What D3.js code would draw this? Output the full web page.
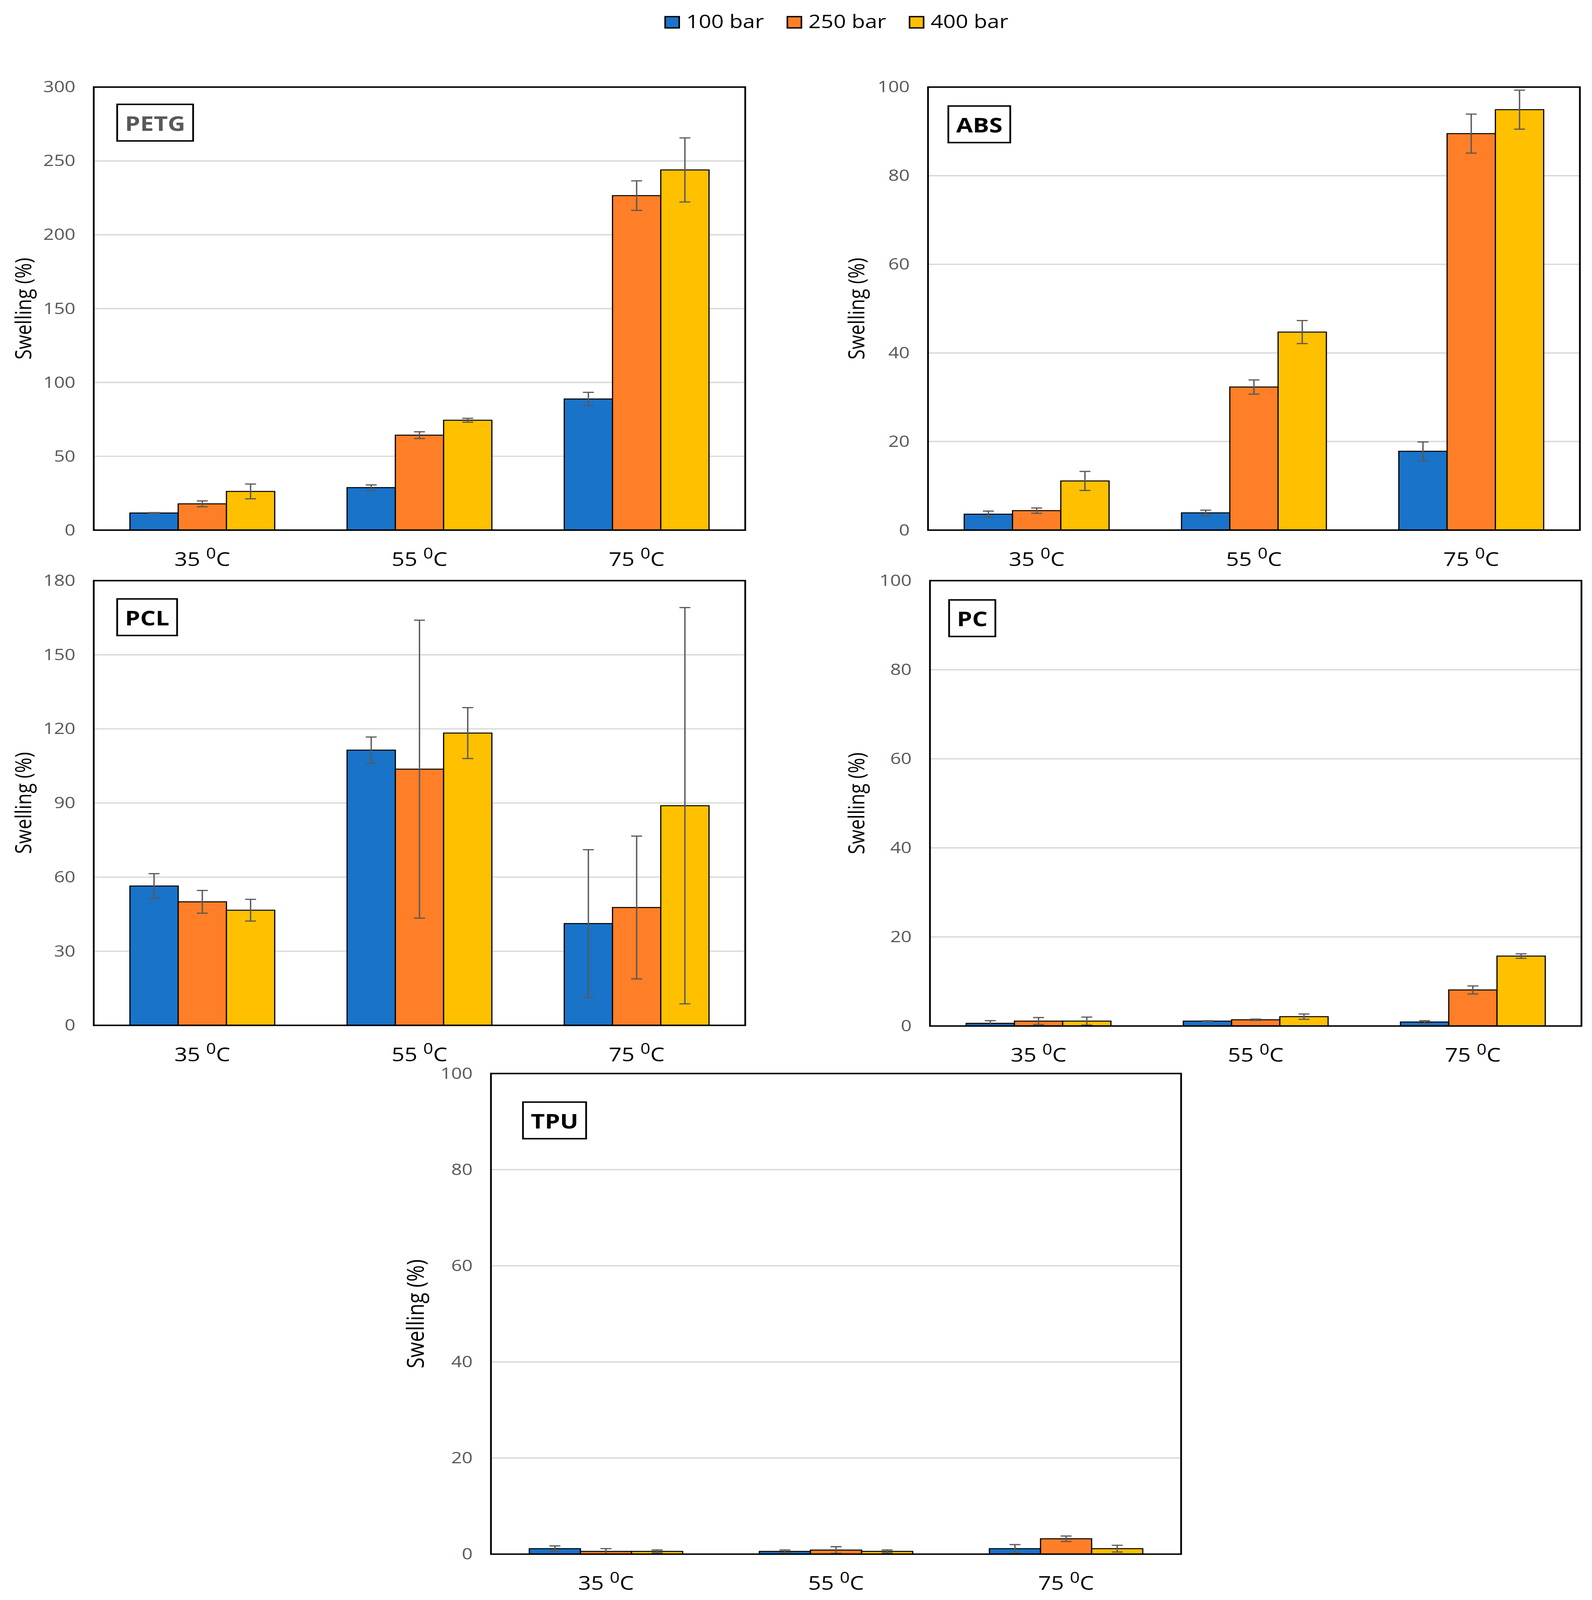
<!DOCTYPE html>
<html>
<head>
<meta charset="utf-8">
<script src="https://cdn.jsdelivr.net/npm/d3@7"></script>
<style>
  html, body { margin: 0; padding: 0; background: #fff; overflow: hidden; }
  svg { display: block; font-family: "Open Sans", sans-serif; }
</style>
</head>
<body>
<div id="chart"></div>
<script>
// Categories and series
const temps = ['35', '55', '75'];
const pressures = ['100 bar', '250 bar', '400 bar'];
const colors = ['#1873C9', '#FE7F27', '#FFC000'];

// Swelling (%) per temperature (rows) and pressure (columns)
const petgMean = [[11.6, 17.8, 26.2], [28.8, 64.3, 74.4], [88.8, 226.5, 243.9]];
const petgErr  = [[0.3, 2.0, 5.0], [1.8, 2.3, 1.3], [4.5, 10.0, 21.7]];
const absMean  = [[3.6, 4.4, 11.1], [3.9, 32.3, 44.7], [17.8, 89.5, 94.9]];
const absErr   = [[0.7, 0.6, 2.15], [0.6, 1.6, 2.6], [2.1, 4.4, 4.4]];
const pclMean  = [[56.4, 50.0, 46.6], [111.4, 103.7, 118.3], [41.2, 47.7, 88.9]];
const pclErr   = [[5.0, 4.6, 4.4], [5.3, 60.3, 10.3], [29.9, 28.9, 80.2]];
const pcMean   = [[0.6, 1.1, 1.1], [1.1, 1.4, 2.1], [0.9, 8.1, 15.7]];
const pcErr    = [[0.6, 0.8, 0.9], [0.1, 0.15, 0.6], [0.3, 0.9, 0.5]];
const tpuMean  = [[1.14, 0.57, 0.57], [0.57, 0.85, 0.57], [1.14, 3.2, 1.14]];
const tpuErr   = [[0.57, 0.57, 0.3], [0.3, 0.7, 0.3], [0.85, 0.57, 0.7]];

// Y axis tick labels per panel
const petgTicks = [0, 50, 100, 150, 200, 250, 300];
const absTicks  = [0, 20, 40, 60, 80, 100];
const pclTicks  = [0, 30, 60, 90, 120, 150, 180];
const pcTicks   = [0, 20, 40, 60, 80, 100];
const tpuTicks  = [0, 20, 40, 60, 80, 100];

// layout in figure units (4076 x 4814); the svg is stretched to fill the window
const panels = [
  { name: 'PETG', mean: petgMean, err: petgErr, ticks: petgTicks, x: 240, y: 262, w: 1668, h: 1333, titleX: 58, titleSize: 56, box: [60, 52], labelColor: '#595959' },
  { name: 'ABS', mean: absMean, err: absErr, ticks: absTicks, x: 2376, y: 262, w: 1669, h: 1333, titleX: 2191, titleSize: 56, box: [52, 57], labelColor: '#000' },
  { name: 'PCL', mean: pclMean, err: pclErr, ticks: pclTicks, x: 240, y: 1747, w: 1668, h: 1338, titleX: 58, titleSize: 56, box: [60, 55], labelColor: '#000' },
  { name: 'PC', mean: pcMean, err: pcErr, ticks: pcTicks, x: 2381, y: 1747, w: 1668, h: 1340, titleX: 2191, titleSize: 56, box: [49, 58], labelColor: '#000' },
  { name: 'TPU', mean: tpuMean, err: tpuErr, ticks: tpuTicks, x: 1257, y: 3230, w: 1767, h: 1446, titleX: 1061, titleSize: 60, box: [82, 86], labelColor: '#000' }
];

const W = 4076, H = 4814;
const vw = Math.min(window.innerWidth || W, W), vh = Math.min(window.innerHeight || H, H);

const svg = d3.select('#chart').append('svg')
  .attr('viewBox', `0 0 ${W} ${H}`)
  .attr('preserveAspectRatio', 'none')
  .attr('width', vw).attr('height', vh);

panels.forEach(drawPanel);
drawLegend();

function drawPanel(p) {
  const g = svg.append('g').attr('transform', `translate(${p.x},${p.y})`);
  const yMax = d3.max(p.ticks);

  const x0 = d3.scaleBand().domain(temps).range([0, p.w]);
  const bw = x0.bandwidth();
  // Excel-like gap width of 150%
  const x1 = d3.scaleBand().domain(pressures).range([bw * 0.75 / 4.5, bw * 3.75 / 4.5]);
  const y = d3.scaleLinear().domain([0, yMax]).range([p.h, 0]);

  // gridlines
  g.append('g').selectAll('line')
    .data(p.ticks.filter(t => t > 0 && t < yMax))
    .join('line')
    .attr('x1', 0).attr('x2', p.w)
    .attr('y1', d => y(d)).attr('y2', d => y(d))
    .attr('stroke', '#d9d9d9').attr('stroke-width', 4);

  // y tick labels
  const yAxis = g.append('g')
    .call(d3.axisLeft(y).tickValues(p.ticks).tickSize(0).tickPadding(47));
  yAxis.select('.domain').remove();
  yAxis.selectAll('text')
    .attr('font-family', '"Open Sans", sans-serif')
    .attr('font-size', 48).attr('fill', '#595959');

  // bars
  const rows = temps.map((t, i) => pressures.map((s, j) => ({
    temp: t, series: s, idx: j, v: p.mean[i][j], e: p.err[i][j]
  })));
  const groups = g.append('g').selectAll('g')
    .data(rows).join('g')
    .attr('transform', (d, i) => `translate(${x0(temps[i])},0)`);

  groups.selectAll('rect')
    .data(d => d).join('rect')
    .attr('x', d => x1(d.series))
    .attr('width', x1.bandwidth())
    .attr('y', d => y(d.v))
    .attr('height', d => p.h - y(d.v))
    .attr('fill', d => colors[d.idx])
    .attr('stroke', '#000').attr('stroke-width', 3);

  // error bars
  const cap = 14;
  const cx = d => x1(d.series) + x1.bandwidth() / 2;
  const eb = groups.selectAll('g.err')
    .data(d => d).join('g').attr('class', 'err')
    .attr('stroke', '#595959').attr('stroke-width', 3.5);
  eb.append('line')
    .attr('x1', cx).attr('x2', cx)
    .attr('y1', d => y(d.v + d.e))
    .attr('y2', d => y(Math.max(0, d.v - d.e)));
  eb.append('line')
    .attr('x1', d => cx(d) - cap).attr('x2', d => cx(d) + cap)
    .attr('y1', d => y(d.v + d.e)).attr('y2', d => y(d.v + d.e));
  eb.append('line')
    .attr('x1', d => cx(d) - cap).attr('x2', d => cx(d) + cap)
    .attr('y1', d => y(Math.max(0, d.v - d.e))).attr('y2', d => y(Math.max(0, d.v - d.e)));

  // frame
  g.append('rect')
    .attr('x', 0).attr('y', 0).attr('width', p.w).attr('height', p.h)
    .attr('fill', 'none').attr('stroke', '#000').attr('stroke-width', 4.5);

  // x labels  "35 ⁰C"
  const xl = g.append('g').selectAll('text')
    .data(temps).join('text')
    .attr('x', d => x0(d) + bw / 2)
    .attr('y', p.h + 108)
    .attr('text-anchor', 'middle')
    .attr('font-size', 58).attr('fill', '#000');
  xl.append('tspan').text(d => d + ' ');
  xl.append('tspan').text('0').attr('font-size', 44).attr('dy', -22);
  xl.append('tspan').text('C').attr('dy', 22);

  // axis title
  svg.append('text')
    .attr('transform', `translate(${p.titleX},${p.y + p.h / 2}) rotate(-90)`)
    .attr('text-anchor', 'middle')
    .attr('dominant-baseline', 'central')
    .attr('font-size', p.titleSize).attr('fill', '#000')
    .text('Swelling (%)');

  // material label box
  const bx = g.append('g').attr('transform', `translate(${p.box[0]},${p.box[1]})`);
  const boxH = 110;
  const rect = bx.append('rect').attr('height', boxH)
    .attr('fill', '#fff').attr('stroke', '#000').attr('stroke-width', 4.5);
  const lt = bx.append('text')
    .attr('y', boxH / 2)
    .attr('dominant-baseline', 'central')
    .attr('text-anchor', 'middle')
    .attr('font-size', 62).attr('font-weight', 700)
    .attr('fill', p.labelColor)
    .text(p.name);
  const tw = lt.node().getComputedTextLength();
  rect.attr('width', tw + 40);
  lt.attr('x', tw / 2 + 20);
}

function drawLegend() {
  const lg = svg.append('g').attr('transform', 'translate(1701,48)');
  let cx = 0;
  pressures.forEach((s, i) => {
    lg.append('rect')
      .attr('x', cx + 2).attr('y', 2).attr('width', 36).attr('height', 34)
      .attr('fill', colors[i]).attr('stroke', '#000').attr('stroke-width', 4);
    const t = lg.append('text')
      .attr('x', cx + 56).attr('y', 37)
      .attr('font-size', 56).attr('fill', '#000')
      .text(s);
    cx += 56 + t.node().getComputedTextLength() + 58;
  });
}
</script>
</body>
</html>
